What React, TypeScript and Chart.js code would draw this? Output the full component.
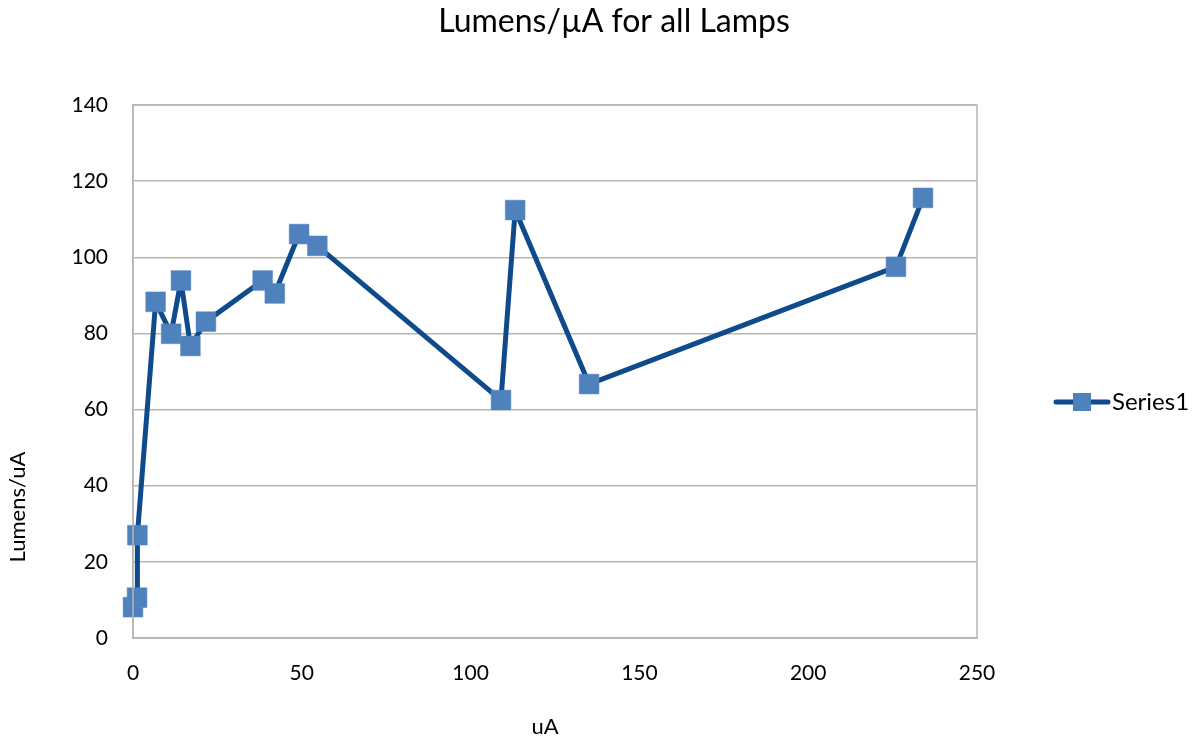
import React, { useEffect, useRef } from "react";
import { Chart, registerables } from "chart.js";

Chart.register(...registerables);

const uA = [0, 1.2, 1.3, 6.7, 11.3, 14.2, 17.0, 21.6, 38.4, 42.0, 49.2, 54.6, 109.0, 113.2, 135.1, 226.0, 234.0];
const lumensPerUA = [8.1, 10.6, 27.0, 88.3, 79.9, 93.9, 76.7, 83.1, 93.9, 90.5, 106.1, 103.0, 62.5, 112.4, 66.7, 97.5, 115.6];
const seriesName = "Series1";
const chartTitle = "Lumens/µA for all Lamps";
const xTitle = "uA";
const yTitle = "Lumens/uA";

const FONT = "Lato, 'Open Sans', sans-serif";
const LINE_COLOR = "#0E4A8C";
const MARKER_COLOR = "#4F81BD";
const GRID_COLOR = "#B6B6B6";

const decorPlugin = {
  id: "decor",
  afterDraw(chart: any) {
    const { ctx, chartArea } = chart;
    ctx.save();
    // plot border
    ctx.strokeStyle = GRID_COLOR;
    ctx.lineWidth = 1.5;
    ctx.strokeRect(chartArea.left, chartArea.top, chartArea.right - chartArea.left, chartArea.bottom - chartArea.top);
    ctx.fillStyle = "#000";
    // title
    ctx.font = `32px ${FONT}`;
    ctx.textAlign = "center";
    ctx.textBaseline = "middle";
    ctx.fillText(chartTitle, 614, 22);
    // x axis title
    ctx.font = `22px ${FONT}`;
    ctx.fillText(xTitle, 545, 727);
    // y axis title
    ctx.save();
    ctx.translate(18, 507);
    ctx.rotate(-Math.PI / 2);
    ctx.fillText(yTitle, 0, 0);
    ctx.restore();
    // legend
    const ly = 402;
    ctx.strokeStyle = LINE_COLOR;
    ctx.lineWidth = 5;
    ctx.lineCap = "round";
    ctx.beginPath();
    ctx.moveTo(1056, ly);
    ctx.lineTo(1108, ly);
    ctx.stroke();
    ctx.fillStyle = MARKER_COLOR;
    ctx.fillRect(1073, ly - 9, 18, 18);
    ctx.fillStyle = "#000";
    ctx.font = `24px ${FONT}`;
    ctx.textAlign = "left";
    ctx.fillText(seriesName, 1112, ly);
    ctx.restore();
  },
};

export default function App() {
  const ref = useRef<HTMLCanvasElement>(null);
  useEffect(() => {
    if (!ref.current) return;
    const points = uA.map((x, i) => ({ x, y: lumensPerUA[i] }));
    const chart = new Chart(ref.current, {
      type: "scatter",
      data: {
        datasets: [
          {
            label: seriesName,
            data: points,
            showLine: true,
            borderColor: LINE_COLOR,
            borderWidth: 5,
            borderJoinStyle: "round",
            borderCapStyle: "round",
            backgroundColor: MARKER_COLOR,
            pointStyle: "rect",
            pointRadius: 14,
            pointBorderWidth: 0.5,
            pointBorderColor: "#5B8AC4",
            pointBackgroundColor: MARKER_COLOR,
            clip: false,
          } as any,
        ],
      },
      options: {
        responsive: false,
        animation: false,
        devicePixelRatio: 1,
        layout: { padding: { left: 0, right: 222, top: 105, bottom: 0 } },
        plugins: { legend: { display: false }, title: { display: false }, tooltip: { enabled: false } },
        scales: {
          x: {
            type: "linear",
            min: 0,
            max: 250,
            afterFit: (s: any) => { s.height = 104; },
            ticks: { stepSize: 50, padding: 23, color: "#000", font: { family: FONT, size: 21 } },
            grid: { display: false, drawTicks: false },
            border: { display: true, color: GRID_COLOR, width: 1.5 },
          },
          y: {
            min: 0,
            max: 140,
            afterFit: (s: any) => { s.width = 133; },
            ticks: { stepSize: 20, padding: 25, color: "#000", font: { family: FONT, size: 21 } },
            grid: { color: GRID_COLOR, lineWidth: 1.5, drawTicks: false },
            border: { display: true, color: GRID_COLOR, width: 1.5 },
          },
        },
      },
      plugins: [decorPlugin],
    });
    return () => chart.destroy();
  }, []);
  return (
    <div style={{ position: "absolute", left: 0, top: 0, width: 1199, height: 742, background: "#fff" }}>
      <canvas ref={ref} width={1199} height={742} style={{ display: "block" }} />
    </div>
  );
}
